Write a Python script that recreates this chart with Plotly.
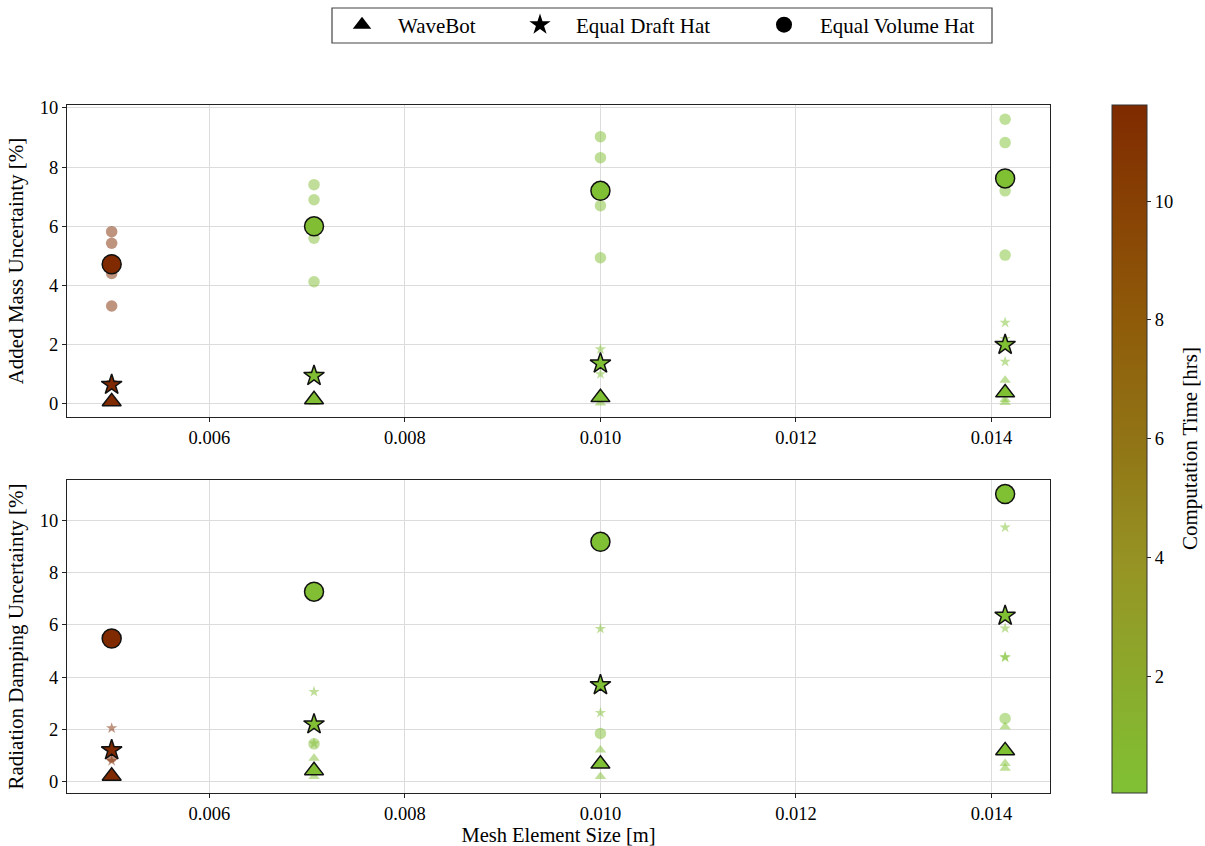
import plotly.graph_objects as go

# Mesh element sizes [m] and the computation time [hrs] at each size
mesh_size = [0.005, 0.00707, 0.010, 0.01414]
comp_time = [11.6, 0.3, 0.1, 0.03]

# Added mass uncertainty [%]: headline value per mesh size
am_wavebot = [0.08, 0.15, 0.22, 0.38]
am_draft = [0.65, 0.95, 1.37, 2.0]
am_volume = [4.72, 6.0, 7.2, 7.62]

# Added mass uncertainty [%]: individual cases per mesh size
am_wavebot_cases = [[0.05, 0.12], [0.05, 0.25], [0.03, 0.35], [0.05, 0.15, 0.8]]
am_draft_cases = [[0.6, 0.75], [0.9, 1.05], [1.85, 1.01], [2.75, 2.2, 1.43]]
am_volume_cases = [[5.82, 5.43, 4.41, 3.31], [7.41, 6.9, 5.6, 4.13],
                   [9.03, 8.32, 6.7, 4.94], [9.62, 8.83, 7.2, 5.03]]

# Radiation damping uncertainty [%]: headline value per mesh size
rd_wavebot = [0.22, 0.43, 0.68, 1.19]
rd_draft = [1.21, 2.2, 3.7, 6.35]
rd_volume = [5.48, 7.27, 9.18, 11.0]

# Radiation damping uncertainty [%]: individual cases per mesh size
rd_wavebot_cases = [[0.12, 0.3], [0.9, 0.2], [1.21, 0.2], [2.1, 0.7, 0.52]]
rd_draft_cases = [[2.05, 0.8], [3.44, 1.47], [5.85, 2.64], [9.73, 5.87, 4.78, 4.75]]
rd_volume_cases = [[0.95], [1.45], [1.85], [2.42]]

x_ticks = [0.006, 0.008, 0.010, 0.012, 0.014]
y_ticks = [0, 2, 4, 6, 8, 10]
cbar_ticks = [2, 4, 6, 8, 10]

FONT = "Liberation Serif"
W, H = 1205, 846
L, R, T, B = 67, 155, 105, 53
PW, PH = W - L - R, H - T - B


def px_x(p):
    return (p - L) / PW


def px_y(p):
    return (H - B - p) / PH


colorscale = [
    [0.0, "rgb(128,193,52)"],
    [0.33, "rgb(150,148,36)"],
    [0.5, "rgb(145,118,22)"],
    [0.68, "rgb(143,92,10)"],
    [0.85, "rgb(136,66,4)"],
    [1.0, "rgb(127,42,0)"],
]

symbols = {"wavebot": "triangle-up", "draft": "star", "volume": "circle"}
big_size = {"wavebot": 16.5, "draft": 15.5, "volume": 19}
small_size = {"wavebot": 10, "draft": 8.5, "volume": 11.5}

fig = go.Figure()


def add_cases(cases, kind, yaxis):
    xs, ys, cs = [], [], []
    for xm, t, vals in zip(mesh_size, comp_time, cases):
        for v in vals:
            xs.append(xm)
            ys.append(v)
            cs.append(t)
    fig.add_trace(go.Scatter(
        x=xs, y=ys, mode="markers", xaxis="x" if yaxis == "y" else "x2", yaxis=yaxis,
        showlegend=False, hoverinfo="skip",
        marker=dict(symbol=symbols[kind], size=small_size[kind], color=cs,
                    coloraxis="coloraxis", opacity=0.5, line=dict(width=0)),
    ))


def add_main(vals, kind, yaxis):
    fig.add_trace(go.Scatter(
        x=mesh_size, y=vals, mode="markers", xaxis="x" if yaxis == "y" else "x2", yaxis=yaxis,
        showlegend=False,
        marker=dict(symbol=symbols[kind], size=big_size[kind], color=comp_time,
                    coloraxis="coloraxis", line=dict(color="#111111", width=1.5)),
    ))


for yaxis, groups in (
    ("y", [(am_volume_cases, am_volume, "volume"), (am_draft_cases, am_draft, "draft"),
           (am_wavebot_cases, am_wavebot, "wavebot")]),
    ("y2", [(rd_volume_cases, rd_volume, "volume"), (rd_draft_cases, rd_draft, "draft"),
            (rd_wavebot_cases, rd_wavebot, "wavebot")]),
):
    for cases, _, kind in groups:
        add_cases(cases, kind, yaxis)
    for _, main, kind in groups:
        add_main(main, kind, yaxis)

# Legend entries (black marker glyphs), one legend each so spacing can be set
legend_items = [("WaveBot", "wavebot", "legend", 326),
                ("Equal Draft Hat", "draft", "legend2", 504),
                ("Equal Volume Hat", "volume", "legend3", 748)]
for name, kind, lg, _ in legend_items:
    fig.add_trace(go.Scatter(
        x=[None], y=[None], mode="markers", name=name, legend=lg,
        marker=dict(symbol=symbols[kind], size=16, color="black"),
    ))

axis_common = dict(
    showline=True, linecolor="#222222", linewidth=1, mirror=True,
    ticks="outside", ticklen=4, tickcolor="#222222",
    showgrid=True, gridcolor="#dcdcdc", gridwidth=1, zeroline=False,
    automargin=False,
    tickfont=dict(family=FONT, size=18.5, color="black"),
)

legend_common = dict(
    orientation="h", yanchor="middle", y=px_y(25), xanchor="left",
    bgcolor="rgba(0,0,0,0)", borderwidth=0, itemwidth=62,
    font=dict(family=FONT, size=21, color="black"),
)

fig.update_layout(
    width=W, height=H,
    margin=dict(l=L, r=R, t=T, b=B, autoexpand=False),
    paper_bgcolor="white", plot_bgcolor="white",
    font=dict(family=FONT, size=19, color="black"),
    xaxis=dict(axis_common, domain=[0, 1], anchor="y", range=[0.004543, 0.014599],
               tickvals=x_ticks, tickformat=".3f"),
    yaxis=dict(axis_common, domain=[px_y(417), 1], anchor="x", range=[-0.44, 10.1],
               tickvals=y_ticks,
               title=dict(text="Added Mass Uncertainty [%]", standoff=10,
                          font=dict(family=FONT, size=21))),
    xaxis2=dict(axis_common, domain=[0, 1], anchor="y2", range=[0.004543, 0.014599],
                tickvals=x_ticks, tickformat=".3f",
                title=dict(text="Mesh Element Size [m]", standoff=8,
                           font=dict(family=FONT, size=20.5))),
    yaxis2=dict(axis_common, domain=[0, px_y(480)], anchor="x2", range=[-0.43, 11.54],
                tickvals=y_ticks,
                title=dict(text="Radiation Damping Uncertainty [%]", standoff=10,
                           font=dict(family=FONT, size=21))),
    coloraxis=dict(
        colorscale=colorscale, cmin=0.03, cmax=11.62,
        colorbar=dict(
            x=px_x(1112), xanchor="left", xpad=0, ypad=0,
            y=0.5, yanchor="middle", len=1, lenmode="fraction", thickness=35,
            outlinewidth=1, outlinecolor="#333333",
            ticks="outside", ticklen=4, tickcolor="#222222",
            tickvals=cbar_ticks, tickfont=dict(family=FONT, size=18.5, color="black"),
        ),
    ),
    annotations=[dict(text="Computation Time [hrs]", textangle=-90,
                      xref="paper", yref="paper", x=px_x(1190), y=px_y(449),
                      xanchor="center", yanchor="middle", showarrow=False,
                      font=dict(family=FONT, size=21, color="black"))],
    legend=dict(legend_common, x=px_x(legend_items[0][3])),
    legend2=dict(legend_common, x=px_x(legend_items[1][3])),
    legend3=dict(legend_common, x=px_x(legend_items[2][3])),
    shapes=[dict(type="rect", xref="paper", yref="paper",
                 x0=px_x(332), x1=px_x(992), y0=px_y(43), y1=px_y(8),
                 line=dict(color="#444444", width=1.2), fillcolor="rgba(0,0,0,0)")],
)

fig.write_html("out.html")
